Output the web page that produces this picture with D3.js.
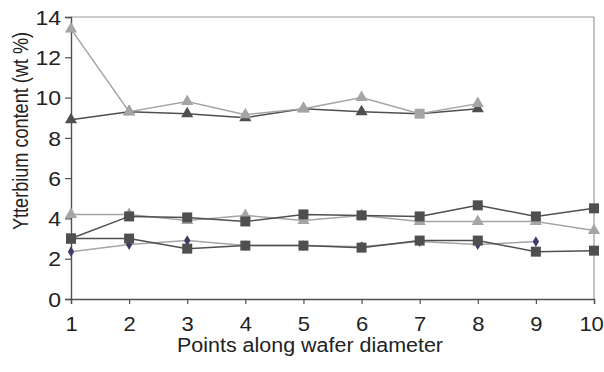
<!DOCTYPE html>
<html><head><meta charset="utf-8">
<script src="https://cdn.jsdelivr.net/npm/d3@7"></script>
<style>
body{margin:0;background:#fff;}
text{font-family:"Liberation Sans",Arial,Helvetica,sans-serif;fill:#222;}
</style></head>
<body><svg id="c" width="604" height="372"></svg>
<script>
// ---- data ----
const points = [1,2,3,4,5,6,7,8,9,10];
const yTicks = [0,2,4,6,8,10,12,14];
const xTitle = "Points along wafer diameter";
const yTitle = "Ytterbium content (wt %)";
// upper group
const darkTriHigh  = [8.9, 9.3, 9.2, 9.0, 9.45, 9.3, 9.2, 9.45, null, null];
const lightTriHigh = [13.4, 9.3, 9.8, 9.15, 9.45, 10.0, 9.2, 9.7, null, null];
const lightSquareHigh = [null, null, null, null, null, null, 9.2, null, null, null];
// lower group
const lightTriLow  = [4.2, 4.2, 3.9, 4.15, 3.9, 4.15, 3.85, 3.85, 3.85, 3.4];
const diamondLow   = [2.35, 2.7, 2.9, 2.65, 2.65, 2.6, 2.85, 2.7, 2.85, null];
const darkSqA      = [3.0, 4.1, 4.05, 3.85, 4.2, 4.15, 4.1, 4.65, 4.1, 4.5];
const darkSqB      = [3.0, 3.0, 2.5, 2.65, 2.65, 2.55, 2.9, 2.9, 2.35, 2.4];

const svg = d3.select("#c");
const L = 71, R = 594, T = 17, B = 299;
const x = d3.scaleLinear().domain([1,10]).range([L,R]);
const y = d3.scaleLinear().domain([0,14]).range([B,T]);

const DARK = "#4f4f4f", LIGHT = "#a5a5a5", NAVY = "#3d3a6b";

// frame (top & right)
svg.append("line").attr("x1",L).attr("x2",R).attr("y1",T).attr("y2",T).attr("stroke","#9a9a9a").attr("stroke-width",1.2);
svg.append("line").attr("x1",R).attr("x2",R).attr("y1",T).attr("y2",B).attr("stroke","#9a9a9a").attr("stroke-width",1.2);

// axes
const xAxis = svg.append("g").attr("transform",`translate(0,${B})`)
  .call(d3.axisBottom(x).tickValues(points).tickSize(5).tickFormat(d3.format("d")));
const yAxis = svg.append("g").attr("transform",`translate(${L},0)`)
  .call(d3.axisLeft(y).tickValues(yTicks).tickSize(6));
[xAxis,yAxis].forEach(a=>{
  a.select(".domain").attr("stroke",DARK).attr("stroke-width",1.4);
  a.selectAll(".tick line").attr("stroke",DARK).attr("stroke-width",1.2);
  a.selectAll("text").style("font-family",'"Liberation Sans",Arial,sans-serif').attr("fill","#222");
});
const xt = xAxis.selectAll(".tick text").attr("y",0).attr("dy",0).style("font-size","20px")
  .attr("transform","translate(0,32) scale(1.1,1)");
// keep last label inside the picture
xt.filter(d=>d===points[points.length-1]).attr("text-anchor","end").attr("x",8.5);
yAxis.selectAll(".tick text").attr("x",0).attr("dy","0.36em").style("font-size","20px")
  .attr("transform","translate(-10,0) scale(1.15,1)");

// titles
svg.append("text").attr("x",310).attr("y",352).attr("text-anchor","middle")
  .style("font-size","19.5px").attr("textLength",266).attr("lengthAdjust","spacingAndGlyphs").text(xTitle);
svg.append("text").attr("transform","translate(28,131) scale(1.2,1) rotate(-90)").attr("text-anchor","middle")
  .style("font-size","18.5px").attr("textLength",198).attr("lengthAdjust","spacingAndGlyphs").text(yTitle);

// series drawing
const line = d3.line().defined(d=>d[1]!=null).x(d=>x(d[0])).y(d=>y(d[1]));
function series(vals, lineColor, marker, markColor, size, hideMask){
  const pts = points.map((p,i)=>[p, vals[i], i]);
  if (lineColor) svg.append("path").attr("d",line(pts)).attr("fill","none")
    .attr("stroke",lineColor).attr("stroke-width",1.5);
  const sym = d3.symbol().type(marker).size(size);
  svg.append("g").selectAll("path")
    .data(pts.filter(d=>d[1]!=null && !(hideMask && hideMask[d[2]]!=null))).join("path")
    .attr("d",sym).attr("transform",d=>`translate(${x(d[0])},${y(d[1])})`)
    .attr("fill",markColor);
}
series(lightTriLow, LIGHT, d3.symbolTriangle, LIGHT, 64);
series(diamondLow, LIGHT, d3.symbolDiamond, NAVY, 34);
series(darkSqA, DARK, d3.symbolSquare, DARK, 100);
series(darkSqB, DARK, d3.symbolSquare, DARK, 100);
series(darkTriHigh, DARK, d3.symbolTriangle, DARK, 64, lightSquareHigh);
series(lightTriHigh, LIGHT, d3.symbolTriangle, LIGHT, 64, lightSquareHigh);
series(lightSquareHigh, null, d3.symbolSquare, LIGHT, 100);
</script></body></html>
